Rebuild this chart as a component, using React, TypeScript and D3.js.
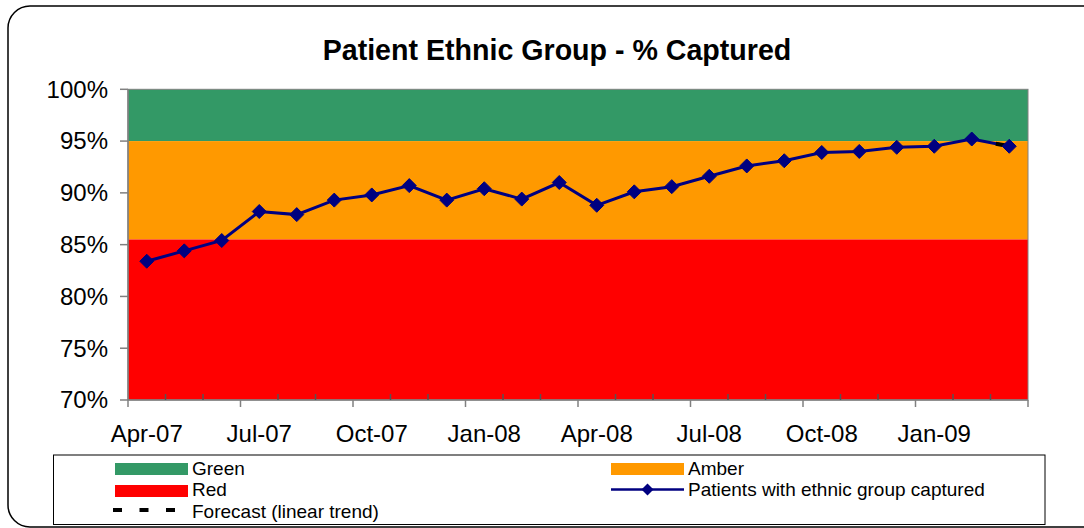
import React from "react";
import * as d3 from "d3";

const months = [
  "Apr-07","May-07","Jun-07","Jul-07","Aug-07","Sep-07","Oct-07","Nov-07","Dec-07",
  "Jan-08","Feb-08","Mar-08","Apr-08","May-08","Jun-08","Jul-08","Aug-08","Sep-08",
  "Oct-08","Nov-08","Dec-08","Jan-09","Feb-09","Mar-09",
];
const captured = [
  83.4, 84.4, 85.4, 88.2, 87.9, 89.3, 89.8, 90.7, 89.3, 90.4, 89.4, 91.0,
  88.8, 90.1, 90.6, 91.6, 92.6, 93.1, 93.9, 94.0, 94.4, 94.5, 95.2, 94.5,
];
const forecast: (number | null)[] = [
  null, null, null, null, null, null, null, null, null, null, null, null,
  null, null, null, null, null, null, null, null, null, null, 95.2, 94.5,
];
const bandRed = 85.5;
const bandAmber = 95;
const bandGreen = 100;
const yTickValues = [70, 75, 80, 85, 90, 95, 100];
const labelledMonths = ["Apr-07","Jul-07","Oct-07","Jan-08","Apr-08","Jul-08","Oct-08","Jan-09"];

const FONT = "'Liberation Sans', Arial, sans-serif";
const GREEN = "#339966";
const AMBER = "#FF9900";
const RED = "#FF0000";
const NAVY = "#000080";

export default function App() {
  const left = 128, right = 1028, top = 89.3, bottom = 400;
  const x = d3.scaleBand<string>().domain(months).range([left, right]);
  const y = d3.scaleLinear().domain([70, 100]).range([bottom, top]);
  const cx = (m: string) => (x(m) as number) + x.bandwidth() / 2;

  const line = d3.line<number>().x((_, i) => cx(months[i])).y((d) => y(d));
  const fLine = d3
    .line<number | null>()
    .defined((d) => d != null)
    .x((_, i) => cx(months[i]))
    .y((d) => y(d as number));

  const diamond = (px: number, py: number, r: number) =>
    `M${px},${py - r}L${px + r},${py}L${px},${py + r}L${px - r},${py}Z`;

  const boundaries = d3.range(months.length + 1).map((i) => left + i * x.step());

  return (
    <svg
      width={1084}
      height={528}
      style={{ position: "fixed", left: 0, top: 0, background: "#fff" }}
      fontFamily={FONT}
    >
      <rect x={0} y={0} width={1084} height={528} fill="#fff" />
      <rect x={8} y={6} width={1100} height={521} rx={22} ry={22} fill="#fff" stroke="#000" strokeWidth={1.5} />

      <text x={557} y={60} textAnchor="middle" fontSize={28.6} fontWeight="bold" fill="#000">
        Patient Ethnic Group - % Captured
      </text>

      {/* bands */}
      <rect x={left} y={y(bandGreen)} width={right - left} height={y(bandAmber) - y(bandGreen)} fill={GREEN} />
      <rect x={left} y={y(bandAmber)} width={right - left} height={y(bandRed) - y(bandAmber)} fill={AMBER} />
      <rect x={left} y={y(bandRed)} width={right - left} height={y(70) - y(bandRed)} fill={RED} />
      <rect x={left} y={top} width={right - left} height={bottom - top} fill="none" stroke="#808080" strokeWidth={1} />

      {/* y axis */}
      <line x1={left} x2={left} y1={top} y2={bottom} stroke="#808080" strokeWidth={1.5} />
      {yTickValues.map((v) => (
        <g key={v}>
          <line x1={left - 8} x2={left} y1={y(v)} y2={y(v)} stroke="#808080" strokeWidth={1.5} />
          <text x={108} y={y(v)} dy="0.35em" textAnchor="end" fontSize={24} fill="#000">
            {v}%
          </text>
        </g>
      ))}

      {/* x axis */}
      <line x1={left} x2={right} y1={bottom} y2={bottom} stroke="#808080" strokeWidth={1.5} />
      {boundaries.map((bx, i) =>
        i % 3 === 0 ? (
          <line key={i} x1={bx} x2={bx} y1={bottom} y2={bottom + 7} stroke="#808080" strokeWidth={1.5} />
        ) : (
          <line key={i} x1={bx} x2={bx} y1={bottom - 6} y2={bottom} stroke="#555" strokeWidth={1.5} />
        )
      )}
      {labelledMonths.map((m) => (
        <text key={m} x={cx(m)} y={442} textAnchor="middle" fontSize={24} fill="#000">
          {m}
        </text>
      ))}

      {/* data line */}
      <path d={line(captured) || ""} fill="none" stroke={NAVY} strokeWidth={3} />
      <path
        d={fLine(forecast) || ""}
        fill="none"
        stroke="#000"
        strokeWidth={4}
        strokeDasharray="0 24.5 10 60"
      />
      {captured.map((v, i) => (
        <path key={i} d={diamond(cx(months[i]), y(v), 7)} fill={NAVY} stroke={NAVY} strokeWidth={1} />
      ))}

      {/* legend */}
      <rect x={53.5} y={455} width={991.5} height={69.5} fill="#fff" stroke="#000" strokeWidth={1} />
      <rect x={115} y={463} width={73} height={12} fill={GREEN} />
      <text x={192} y={475} fontSize={19} fill="#000">Green</text>
      <rect x={115} y={485} width={73} height={12} fill={RED} />
      <text x={192} y={496} fontSize={19} fill="#000">Red</text>
      <line x1={113} x2={177} y1={510} y2={510} stroke="#000" strokeWidth={4} strokeDasharray="9 17.5" />
      <text x={192} y={517.5} fontSize={19} fill="#000">Forecast (linear trend)</text>

      <rect x={611} y={463} width={73} height={12} fill={AMBER} />
      <text x={688} y={475} fontSize={19} fill="#000">Amber</text>
      <line x1={611} x2={684} y1={489.5} y2={489.5} stroke={NAVY} strokeWidth={2.5} />
      <path d={diamond(647.5, 489.5, 6)} fill={NAVY} />
      <text x={688} y={496} fontSize={19} fill="#000">Patients with ethnic group captured</text>
    </svg>
  );
}
